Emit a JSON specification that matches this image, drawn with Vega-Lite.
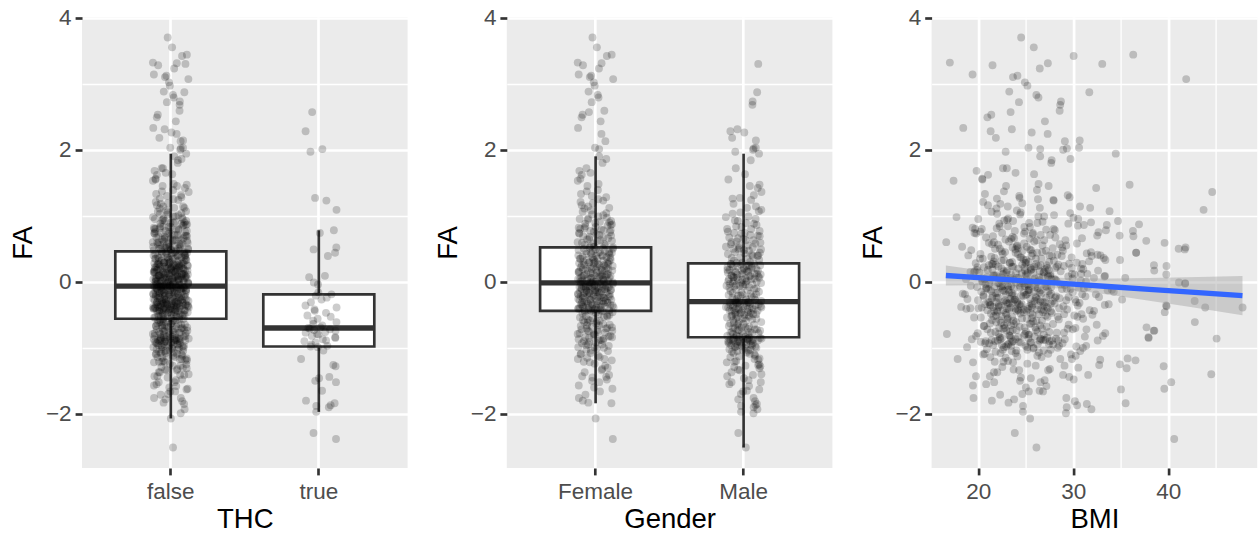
{
  "$schema": "https://vega.github.io/schema/vega-lite/v6.json",
  "background": "white",
  "padding": {"left": 9, "top": 6, "right": 0, "bottom": 0},
  "bounds": "flush",
  "spacing": 98.8,
  "config": {
    "view": {"fill": "#EBEBEB", "stroke": null},
    "axis": {
      "domain": false,
      "grid": true,
      "gridColor": "#FFFFFF",
      "gridWidth": 2.67,
      "tickColor": "#333333",
      "tickWidth": 2.67,
      "tickSize": 6.9,
      "labelColor": "#4D4D4D",
      "labelFont": "Liberation Sans",
      "labelFontSize": 22.5,
      "titleColor": "#000000",
      "titleFont": "Liberation Sans",
      "titleFontSize": 27.5,
      "titleFontWeight": "normal"
    }
  },
  "datasets": {
    "subjects": [
      {"THC":false,"Gender":"Female","BMI":24.52,"FA":3.70},
      {"THC":false,"Gender":"Female","BMI":25.85,"FA":3.55},
      {"THC":false,"Gender":"Female","BMI":36.31,"FA":3.44},
      {"THC":false,"Gender":"Female","BMI":30.04,"FA":3.42},
      {"THC":false,"Gender":"Female","BMI":17.02,"FA":3.32},
      {"THC":false,"Gender":"Female","BMI":27.33,"FA":3.31},
      {"THC":false,"Gender":"Female","BMI":21.51,"FA":3.28},
      {"THC":false,"Gender":"Female","BMI":26.48,"FA":3.23},
      {"THC":false,"Gender":"Female","BMI":19.41,"FA":3.14},
      {"THC":false,"Gender":"Female","BMI":24.13,"FA":3.12},
      {"THC":false,"Gender":"Female","BMI":23.66,"FA":3.10},
      {"THC":false,"Gender":"Female","BMI":41.88,"FA":3.07},
      {"THC":false,"Gender":"Female","BMI":24.91,"FA":3.02},
      {"THC":false,"Gender":"Female","BMI":25.18,"FA":2.97},
      {"THC":false,"Gender":"Female","BMI":23.27,"FA":2.88},
      {"THC":false,"Gender":"Female","BMI":26.12,"FA":2.83},
      {"THC":false,"Gender":"Female","BMI":26.34,"FA":2.79},
      {"THC":false,"Gender":"Female","BMI":24.29,"FA":2.72},
      {"THC":false,"Gender":"Female","BMI":28.57,"FA":2.59},
      {"THC":false,"Gender":"Female","BMI":21.38,"FA":2.53},
      {"THC":false,"Gender":"Female","BMI":20.97,"FA":2.49},
      {"THC":false,"Gender":"Female","BMI":27.02,"FA":2.43},
      {"THC":false,"Gender":"Female","BMI":18.43,"FA":2.33},
      {"THC":false,"Gender":"Female","BMI":27.31,"FA":2.24},
      {"THC":false,"Gender":"Female","BMI":29.12,"FA":2.13},
      {"THC":false,"Gender":"Female","BMI":25.29,"FA":2.03},
      {"THC":false,"Gender":"Female","BMI":26.52,"FA":1.90},
      {"THC":false,"Gender":"Female","BMI":29.71,"FA":1.86},
      {"THC":false,"Gender":"Female","BMI":27.68,"FA":1.80},
      {"THC":false,"Gender":"Female","BMI":22.61,"FA":1.72},
      {"THC":false,"Gender":"Female","BMI":19.83,"FA":1.68},
      {"THC":false,"Gender":"Female","BMI":21.04,"FA":1.62},
      {"THC":false,"Gender":"Female","BMI":20.42,"FA":1.56},
      {"THC":false,"Gender":"Female","BMI":17.41,"FA":1.53},
      {"THC":false,"Gender":"Female","BMI":22.93,"FA":1.45},
      {"THC":false,"Gender":"Female","BMI":26.18,"FA":1.39},
      {"THC":false,"Gender":"Female","BMI":20.71,"FA":1.33},
      {"THC":false,"Gender":"Female","BMI":24.32,"FA":1.30},
      {"THC":false,"Gender":"Female","BMI":26.29,"FA":1.25},
      {"THC":false,"Gender":"Female","BMI":20.52,"FA":1.21},
      {"THC":false,"Gender":"Female","BMI":21.03,"FA":1.16},
      {"THC":false,"Gender":"Female","BMI":23.11,"FA":1.14},
      {"THC":false,"Gender":"Female","BMI":21.92,"FA":1.11},
      {"THC":false,"Gender":"Female","BMI":24.07,"FA":1.08},
      {"THC":false,"Gender":"Female","BMI":29.68,"FA":1.04},
      {"THC":false,"Gender":"Female","BMI":24.41,"FA":1.02},
      {"THC":false,"Gender":"Female","BMI":26.33,"FA":0.99},
      {"THC":false,"Gender":"Female","BMI":30.02,"FA":0.97},
      {"THC":false,"Gender":"Female","BMI":20.01,"FA":0.95},
      {"THC":false,"Gender":"Female","BMI":23.04,"FA":0.94},
      {"THC":false,"Gender":"Female","BMI":34.71,"FA":0.92},
      {"THC":false,"Gender":"Female","BMI":31.87,"FA":0.90},
      {"THC":false,"Gender":"Female","BMI":25.36,"FA":0.89},
      {"THC":false,"Gender":"Female","BMI":36.92,"FA":0.87},
      {"THC":false,"Gender":"Female","BMI":30.49,"FA":0.85},
      {"THC":false,"Gender":"Female","BMI":22.27,"FA":0.84},
      {"THC":false,"Gender":"Female","BMI":19.42,"FA":0.82},
      {"THC":false,"Gender":"Female","BMI":20.38,"FA":0.80},
      {"THC":false,"Gender":"Female","BMI":27.15,"FA":0.79},
      {"THC":false,"Gender":"Female","BMI":23.85,"FA":0.77},
      {"THC":false,"Gender":"Female","BMI":32.66,"FA":0.75},
      {"THC":false,"Gender":"Female","BMI":19.61,"FA":0.74},
      {"THC":false,"Gender":"Female","BMI":25.74,"FA":0.72},
      {"THC":false,"Gender":"Female","BMI":34.88,"FA":0.70},
      {"THC":false,"Gender":"Female","BMI":21.56,"FA":0.69},
      {"THC":false,"Gender":"Female","BMI":28.12,"FA":0.67},
      {"THC":false,"Gender":"Female","BMI":23.47,"FA":0.65},
      {"THC":false,"Gender":"Female","BMI":26.95,"FA":0.63},
      {"THC":false,"Gender":"Female","BMI":37.68,"FA":0.62},
      {"THC":false,"Gender":"Female","BMI":16.64,"FA":0.60},
      {"THC":false,"Gender":"Female","BMI":24.83,"FA":0.58},
      {"THC":false,"Gender":"Female","BMI":22.09,"FA":0.56},
      {"THC":false,"Gender":"Female","BMI":29.26,"FA":0.55},
      {"THC":false,"Gender":"Female","BMI":25.11,"FA":0.53},
      {"THC":false,"Gender":"Female","BMI":23.62,"FA":0.52},
      {"THC":false,"Gender":"Female","BMI":27.84,"FA":0.51},
      {"THC":false,"Gender":"Female","BMI":41.09,"FA":0.50},
      {"THC":false,"Gender":"Female","BMI":21.77,"FA":0.50},
      {"THC":false,"Gender":"Female","BMI":25.43,"FA":0.49},
      {"THC":false,"Gender":"Female","BMI":19.27,"FA":0.48},
      {"THC":false,"Gender":"Female","BMI":24.66,"FA":0.47},
      {"THC":false,"Gender":"Female","BMI":28.91,"FA":0.47},
      {"THC":false,"Gender":"Female","BMI":22.48,"FA":0.46},
      {"THC":false,"Gender":"Female","BMI":26.74,"FA":0.45},
      {"THC":false,"Gender":"Female","BMI":31.86,"FA":0.45},
      {"THC":false,"Gender":"Female","BMI":23.93,"FA":0.44},
      {"THC":false,"Gender":"Female","BMI":31.42,"FA":0.43},
      {"THC":false,"Gender":"Female","BMI":24.18,"FA":0.42},
      {"THC":false,"Gender":"Female","BMI":32.55,"FA":0.41},
      {"THC":false,"Gender":"Female","BMI":27.49,"FA":0.40},
      {"THC":false,"Gender":"Female","BMI":18.96,"FA":0.40},
      {"THC":false,"Gender":"Female","BMI":25.62,"FA":0.39},
      {"THC":false,"Gender":"Female","BMI":21.38,"FA":0.38},
      {"THC":false,"Gender":"Female","BMI":29.83,"FA":0.37},
      {"THC":false,"Gender":"Female","BMI":33.21,"FA":0.36},
      {"THC":false,"Gender":"Female","BMI":26.07,"FA":0.35},
      {"THC":false,"Gender":"Female","BMI":20.19,"FA":0.35},
      {"THC":false,"Gender":"Female","BMI":24.77,"FA":0.34},
      {"THC":false,"Gender":"Female","BMI":33.38,"FA":0.33},
      {"THC":false,"Gender":"Female","BMI":22.71,"FA":0.33},
      {"THC":false,"Gender":"Female","BMI":27.96,"FA":0.32},
      {"THC":false,"Gender":"Female","BMI":21.64,"FA":0.31},
      {"THC":false,"Gender":"Female","BMI":25.29,"FA":0.30},
      {"THC":false,"Gender":"Female","BMI":23.56,"FA":0.30},
      {"THC":false,"Gender":"Female","BMI":30.37,"FA":0.29},
      {"THC":false,"Gender":"Female","BMI":19.74,"FA":0.28},
      {"THC":false,"Gender":"Female","BMI":24.96,"FA":0.28},
      {"THC":false,"Gender":"Female","BMI":30.96,"FA":0.27},
      {"THC":false,"Gender":"Female","BMI":28.43,"FA":0.26},
      {"THC":false,"Gender":"Female","BMI":21.11,"FA":0.25},
      {"THC":false,"Gender":"Female","BMI":26.58,"FA":0.25},
      {"THC":false,"Gender":"Female","BMI":39.81,"FA":0.24},
      {"THC":false,"Gender":"Female","BMI":23.69,"FA":0.23},
      {"THC":false,"Gender":"Female","BMI":25.91,"FA":0.23},
      {"THC":false,"Gender":"Female","BMI":20.63,"FA":0.22},
      {"THC":false,"Gender":"Female","BMI":27.27,"FA":0.21},
      {"THC":false,"Gender":"Female","BMI":29.84,"FA":0.21},
      {"THC":false,"Gender":"Female","BMI":24.24,"FA":0.20},
      {"THC":false,"Gender":"Female","BMI":31.06,"FA":0.19},
      {"THC":false,"Gender":"Female","BMI":21.49,"FA":0.19},
      {"THC":false,"Gender":"Female","BMI":25.55,"FA":0.18},
      {"THC":false,"Gender":"Female","BMI":38.52,"FA":0.17},
      {"THC":false,"Gender":"Female","BMI":23.03,"FA":0.17},
      {"THC":false,"Gender":"Female","BMI":28.68,"FA":0.16},
      {"THC":false,"Gender":"Female","BMI":19.19,"FA":0.15},
      {"THC":false,"Gender":"Female","BMI":26.86,"FA":0.14},
      {"THC":false,"Gender":"Female","BMI":19.53,"FA":0.14},
      {"THC":false,"Gender":"Female","BMI":24.59,"FA":0.13},
      {"THC":false,"Gender":"Female","BMI":30.83,"FA":0.12},
      {"THC":false,"Gender":"Female","BMI":22.62,"FA":0.12},
      {"THC":false,"Gender":"Female","BMI":27.61,"FA":0.11},
      {"THC":false,"Gender":"Female","BMI":21.93,"FA":0.10},
      {"THC":false,"Gender":"Female","BMI":25.08,"FA":0.10},
      {"THC":false,"Gender":"Female","BMI":33.34,"FA":0.09},
      {"THC":false,"Gender":"Female","BMI":29.47,"FA":0.08},
      {"THC":false,"Gender":"Female","BMI":20.92,"FA":0.07},
      {"THC":false,"Gender":"Female","BMI":26.41,"FA":0.07},
      {"THC":false,"Gender":"Female","BMI":24.01,"FA":0.06},
      {"THC":false,"Gender":"Female","BMI":32.18,"FA":0.06},
      {"THC":false,"Gender":"Female","BMI":22.98,"FA":0.05},
      {"THC":false,"Gender":"Female","BMI":27.71,"FA":0.04},
      {"THC":false,"Gender":"Female","BMI":18.72,"FA":0.04},
      {"THC":false,"Gender":"Female","BMI":25.77,"FA":0.03},
      {"THC":false,"Gender":"Female","BMI":21.26,"FA":0.02},
      {"THC":false,"Gender":"Female","BMI":30.79,"FA":0.02},
      {"THC":false,"Gender":"Female","BMI":28.26,"FA":0.01},
      {"THC":false,"Gender":"Female","BMI":24.68,"FA":0.01},
      {"THC":false,"Gender":"Female","BMI":20.47,"FA":0.00},
      {"THC":false,"Gender":"Female","BMI":41.12,"FA":-0.01},
      {"THC":false,"Gender":"Female","BMI":24.44,"FA":-0.015},
      {"THC":false,"Gender":"Female","BMI":22.22,"FA":-0.02},
      {"THC":false,"Gender":"Female","BMI":26.98,"FA":-0.03},
      {"THC":false,"Gender":"Female","BMI":41.77,"FA":-0.03},
      {"THC":false,"Gender":"Female","BMI":20.77,"FA":-0.04},
      {"THC":false,"Gender":"Female","BMI":25.19,"FA":-0.05},
      {"THC":false,"Gender":"Female","BMI":29.09,"FA":-0.05},
      {"THC":false,"Gender":"Female","BMI":23.48,"FA":-0.06},
      {"THC":false,"Gender":"Female","BMI":24.89,"FA":-0.065},
      {"THC":false,"Gender":"Female","BMI":21.69,"FA":-0.07},
      {"THC":false,"Gender":"Female","BMI":27.08,"FA":-0.07},
      {"THC":false,"Gender":"Female","BMI":23.16,"FA":-0.07},
      {"THC":false,"Gender":"Female","BMI":25.98,"FA":-0.08},
      {"THC":false,"Gender":"Female","BMI":19.89,"FA":-0.08},
      {"THC":false,"Gender":"Female","BMI":31.53,"FA":-0.08},
      {"THC":false,"Gender":"Female","BMI":30.56,"FA":-0.09},
      {"THC":false,"Gender":"Female","BMI":22.43,"FA":-0.09},
      {"THC":false,"Gender":"Female","BMI":26.27,"FA":-0.10},
      {"THC":false,"Gender":"Female","BMI":23.74,"FA":-0.10},
      {"THC":false,"Gender":"Female","BMI":28.82,"FA":-0.11},
      {"THC":false,"Gender":"Female","BMI":21.08,"FA":-0.11},
      {"THC":false,"Gender":"Female","BMI":25.34,"FA":-0.12},
      {"THC":false,"Gender":"Female","BMI":34.06,"FA":-0.12},
      {"THC":false,"Gender":"Female","BMI":33.62,"FA":-0.13},
      {"THC":false,"Gender":"Female","BMI":22.58,"FA":-0.13},
      {"THC":false,"Gender":"Female","BMI":27.39,"FA":-0.14},
      {"THC":false,"Gender":"Female","BMI":20.33,"FA":-0.15},
      {"THC":false,"Gender":"Female","BMI":25.86,"FA":-0.15},
      {"THC":false,"Gender":"Female","BMI":23.27,"FA":-0.16},
      {"THC":false,"Gender":"Female","BMI":29.94,"FA":-0.16},
      {"THC":false,"Gender":"Female","BMI":21.82,"FA":-0.17},
      {"THC":false,"Gender":"Female","BMI":26.63,"FA":-0.18},
      {"THC":false,"Gender":"Female","BMI":18.38,"FA":-0.18},
      {"THC":false,"Gender":"Female","BMI":18.61,"FA":-0.19},
      {"THC":false,"Gender":"Female","BMI":22.91,"FA":-0.19},
      {"THC":false,"Gender":"Female","BMI":27.52,"FA":-0.20},
      {"THC":false,"Gender":"Female","BMI":25.01,"FA":-0.20},
      {"THC":false,"Gender":"Female","BMI":23.58,"FA":-0.21},
      {"THC":false,"Gender":"Female","BMI":31.28,"FA":-0.22},
      {"THC":false,"Gender":"Female","BMI":20.57,"FA":-0.22},
      {"THC":false,"Gender":"Female","BMI":26.04,"FA":-0.23},
      {"THC":false,"Gender":"Female","BMI":32.71,"FA":-0.23},
      {"THC":false,"Gender":"Female","BMI":22.14,"FA":-0.24},
      {"THC":false,"Gender":"Female","BMI":28.56,"FA":-0.25},
      {"THC":false,"Gender":"Female","BMI":21.43,"FA":-0.25},
      {"THC":false,"Gender":"Female","BMI":25.47,"FA":-0.26},
      {"THC":false,"Gender":"Female","BMI":23.89,"FA":-0.27},
      {"THC":false,"Gender":"Female","BMI":35.14,"FA":-0.27},
      {"THC":false,"Gender":"Female","BMI":19.98,"FA":-0.28},
      {"THC":false,"Gender":"Female","BMI":29.27,"FA":-0.28},
      {"THC":false,"Gender":"Female","BMI":27.83,"FA":-0.29},
      {"THC":false,"Gender":"Female","BMI":22.67,"FA":-0.30},
      {"THC":false,"Gender":"Female","BMI":26.54,"FA":-0.30},
      {"THC":false,"Gender":"Female","BMI":21.21,"FA":-0.31},
      {"THC":false,"Gender":"Female","BMI":30.29,"FA":-0.31},
      {"THC":false,"Gender":"Female","BMI":24.14,"FA":-0.32},
      {"THC":false,"Gender":"Female","BMI":23.13,"FA":-0.33},
      {"THC":false,"Gender":"Female","BMI":28.04,"FA":-0.33},
      {"THC":false,"Gender":"Female","BMI":20.74,"FA":-0.34},
      {"THC":false,"Gender":"Female","BMI":25.68,"FA":-0.35},
      {"THC":false,"Gender":"Female","BMI":33.32,"FA":-0.35},
      {"THC":false,"Gender":"Female","BMI":39.77,"FA":-0.36},
      {"THC":false,"Gender":"Female","BMI":26.89,"FA":-0.36},
      {"THC":false,"Gender":"Female","BMI":24.47,"FA":-0.37},
      {"THC":false,"Gender":"Female","BMI":21.58,"FA":-0.38},
      {"THC":false,"Gender":"Female","BMI":27.22,"FA":-0.38},
      {"THC":false,"Gender":"Female","BMI":23.42,"FA":-0.39},
      {"THC":false,"Gender":"Female","BMI":47.81,"FA":-0.39},
      {"THC":false,"Gender":"Female","BMI":19.17,"FA":-0.40},
      {"THC":false,"Gender":"Female","BMI":25.23,"FA":-0.41},
      {"THC":false,"Gender":"Female","BMI":18.76,"FA":-0.41},
      {"THC":false,"Gender":"Female","BMI":26.16,"FA":-0.42},
      {"THC":false,"Gender":"Female","BMI":24.79,"FA":-0.42},
      {"THC":false,"Gender":"Female","BMI":21.97,"FA":-0.43},
      {"THC":false,"Gender":"Female","BMI":31.73,"FA":-0.43},
      {"THC":false,"Gender":"Female","BMI":23.98,"FA":-0.44},
      {"THC":false,"Gender":"Female","BMI":27.64,"FA":-0.445},
      {"THC":false,"Gender":"Female","BMI":22.05,"FA":-0.455},
      {"THC":false,"Gender":"Female","BMI":39.63,"FA":-0.46},
      {"THC":false,"Gender":"Female","BMI":25.52,"FA":-0.47},
      {"THC":false,"Gender":"Female","BMI":21.34,"FA":-0.48},
      {"THC":false,"Gender":"Female","BMI":26.38,"FA":-0.49},
      {"THC":false,"Gender":"Female","BMI":32.02,"FA":-0.50},
      {"THC":false,"Gender":"Female","BMI":30.11,"FA":-0.51},
      {"THC":false,"Gender":"Female","BMI":22.44,"FA":-0.52},
      {"THC":false,"Gender":"Female","BMI":28.37,"FA":-0.53},
      {"THC":false,"Gender":"Female","BMI":20.28,"FA":-0.54},
      {"THC":false,"Gender":"Female","BMI":24.61,"FA":-0.555},
      {"THC":false,"Gender":"Female","BMI":23.07,"FA":-0.57},
      {"THC":false,"Gender":"Female","BMI":26.71,"FA":-0.59},
      {"THC":false,"Gender":"Female","BMI":21.89,"FA":-0.61},
      {"THC":false,"Gender":"Female","BMI":25.59,"FA":-0.63},
      {"THC":false,"Gender":"Female","BMI":32.47,"FA":-0.65},
      {"THC":false,"Gender":"Female","BMI":22.73,"FA":-0.66},
      {"THC":false,"Gender":"Female","BMI":37.71,"FA":-0.69},
      {"THC":false,"Gender":"Female","BMI":30.23,"FA":-0.70},
      {"THC":false,"Gender":"Female","BMI":20.96,"FA":-0.72},
      {"THC":false,"Gender":"Female","BMI":26.08,"FA":-0.73},
      {"THC":false,"Gender":"Female","BMI":23.36,"FA":-0.75},
      {"THC":false,"Gender":"Female","BMI":29.03,"FA":-0.77},
      {"THC":false,"Gender":"Female","BMI":16.71,"FA":-0.79},
      {"THC":false,"Gender":"Female","BMI":25.27,"FA":-0.80},
      {"THC":false,"Gender":"Female","BMI":33.12,"FA":-0.82},
      {"THC":false,"Gender":"Female","BMI":22.28,"FA":-0.84},
      {"THC":false,"Gender":"Female","BMI":28.19,"FA":-0.86},
      {"THC":false,"Gender":"Female","BMI":19.33,"FA":-0.87},
      {"THC":false,"Gender":"Female","BMI":26.47,"FA":-0.89},
      {"THC":false,"Gender":"Female","BMI":23.52,"FA":-0.91},
      {"THC":false,"Gender":"Female","BMI":21.15,"FA":-0.93},
      {"THC":false,"Gender":"Female","BMI":27.44,"FA":-0.95},
      {"THC":false,"Gender":"Female","BMI":31.36,"FA":-0.97},
      {"THC":false,"Gender":"Female","BMI":18.83,"FA":-0.99},
      {"THC":false,"Gender":"Female","BMI":25.81,"FA":-1.01},
      {"THC":false,"Gender":"Female","BMI":22.59,"FA":-1.03},
      {"THC":false,"Gender":"Female","BMI":30.74,"FA":-1.05},
      {"THC":false,"Gender":"Female","BMI":23.94,"FA":-1.08},
      {"THC":false,"Gender":"Female","BMI":20.53,"FA":-1.10},
      {"THC":false,"Gender":"Female","BMI":26.22,"FA":-1.12},
      {"THC":false,"Gender":"Female","BMI":22.88,"FA":-1.15},
      {"THC":false,"Gender":"Female","BMI":28.64,"FA":-1.17},
      {"THC":false,"Gender":"Female","BMI":36.55,"FA":-1.19},
      {"THC":false,"Gender":"Female","BMI":21.74,"FA":-1.21},
      {"THC":false,"Gender":"Female","BMI":25.17,"FA":-1.24},
      {"THC":false,"Gender":"Female","BMI":29.08,"FA":-1.27},
      {"THC":false,"Gender":"Female","BMI":30.53,"FA":-1.30},
      {"THC":false,"Gender":"Female","BMI":27.36,"FA":-1.34},
      {"THC":false,"Gender":"Female","BMI":22.01,"FA":-1.37},
      {"THC":false,"Gender":"Female","BMI":31.57,"FA":-1.41},
      {"THC":false,"Gender":"Female","BMI":24.49,"FA":-1.45},
      {"THC":false,"Gender":"Female","BMI":30.05,"FA":-1.48},
      {"THC":false,"Gender":"Female","BMI":26.56,"FA":-1.52},
      {"THC":false,"Gender":"Female","BMI":19.45,"FA":-1.57},
      {"THC":false,"Gender":"Female","BMI":39.58,"FA":-1.62},
      {"THC":false,"Gender":"Female","BMI":26.82,"FA":-1.66},
      {"THC":false,"Gender":"Female","BMI":22.31,"FA":-1.71},
      {"THC":false,"Gender":"Female","BMI":19.51,"FA":-1.76},
      {"THC":false,"Gender":"Female","BMI":23.19,"FA":-1.83},
      {"THC":false,"Gender":"Female","BMI":25.46,"FA":-2.07},
      {"THC":false,"Gender":"Female","BMI":21.46,"FA":-0.58},
      {"THC":false,"Gender":"Female","BMI":25.78,"FA":-0.60},
      {"THC":false,"Gender":"Female","BMI":23.01,"FA":-0.62},
      {"THC":false,"Gender":"Female","BMI":27.87,"FA":-0.64},
      {"THC":false,"Gender":"Female","BMI":20.58,"FA":-0.67},
      {"THC":false,"Gender":"Female","BMI":24.36,"FA":-0.68},
      {"THC":false,"Gender":"Female","BMI":29.41,"FA":-0.71},
      {"THC":false,"Gender":"Female","BMI":22.97,"FA":-0.74},
      {"THC":false,"Gender":"Female","BMI":26.24,"FA":-0.76},
      {"THC":false,"Gender":"Female","BMI":19.95,"FA":-0.78},
      {"THC":false,"Gender":"Female","BMI":24.84,"FA":-0.81},
      {"THC":false,"Gender":"Female","BMI":31.22,"FA":-0.83},
      {"THC":false,"Gender":"Female","BMI":23.43,"FA":-0.85},
      {"THC":false,"Gender":"Female","BMI":27.06,"FA":-0.88},
      {"THC":false,"Gender":"Female","BMI":21.79,"FA":-0.90},
      {"THC":false,"Gender":"Female","BMI":25.48,"FA":-0.92},
      {"THC":false,"Gender":"Female","BMI":22.51,"FA":-0.96},
      {"THC":false,"Gender":"Female","BMI":28.36,"FA":-1.00},
      {"THC":false,"Gender":"Female","BMI":24.02,"FA":-1.04},
      {"THC":false,"Gender":"Female","BMI":20.68,"FA":-1.09},
      {"THC":false,"Gender":"Female","BMI":26.67,"FA":-1.14},
      {"THC":false,"Gender":"Female","BMI":23.67,"FA":-1.22},
      {"THC":false,"Gender":"Female","BMI":27.55,"FA":-1.32},
      {"THC":false,"Gender":"Female","BMI":21.23,"FA":-1.43},
      {"THC":false,"Gender":"Female","BMI":25.02,"FA":-1.60},
      {"THC":false,"Gender":"Female","BMI":26.92,"FA":-0.43},
      {"THC":false,"Gender":"Female","BMI":23.24,"FA":-0.42},
      {"THC":false,"Gender":"Female","BMI":20.04,"FA":-0.40},
      {"THC":false,"Gender":"Female","BMI":25.64,"FA":-0.39},
      {"THC":false,"Gender":"Female","BMI":28.97,"FA":-0.37},
      {"THC":false,"Gender":"Female","BMI":22.38,"FA":-0.36},
      {"THC":false,"Gender":"Female","BMI":24.58,"FA":-0.34},
      {"THC":false,"Gender":"Female","BMI":30.66,"FA":-0.32},
      {"THC":false,"Gender":"Female","BMI":21.91,"FA":-0.31},
      {"THC":false,"Gender":"Female","BMI":25.94,"FA":-0.29},
      {"THC":false,"Gender":"Female","BMI":23.82,"FA":-0.27},
      {"THC":false,"Gender":"Female","BMI":18.87,"FA":-0.26},
      {"THC":false,"Gender":"Female","BMI":27.14,"FA":-0.24},
      {"THC":false,"Gender":"Female","BMI":24.74,"FA":-0.22},
      {"THC":false,"Gender":"Female","BMI":21.52,"FA":-0.21},
      {"THC":false,"Gender":"Female","BMI":32.38,"FA":-0.19},
      {"THC":false,"Gender":"Female","BMI":23.54,"FA":-0.17},
      {"THC":false,"Gender":"Female","BMI":26.46,"FA":-0.16},
      {"THC":false,"Gender":"Female","BMI":22.76,"FA":-0.14},
      {"THC":false,"Gender":"Female","BMI":25.25,"FA":-0.13},
      {"THC":false,"Gender":"Female","BMI":29.31,"FA":-0.11},
      {"THC":false,"Gender":"Female","BMI":20.83,"FA":-0.10},
      {"THC":false,"Gender":"Female","BMI":24.43,"FA":-0.09},
      {"THC":false,"Gender":"Female","BMI":27.69,"FA":-0.08},
      {"THC":false,"Gender":"Female","BMI":22.34,"FA":-0.07},
      {"THC":false,"Gender":"Female","BMI":25.41,"FA":0.00},
      {"THC":false,"Gender":"Female","BMI":22.92,"FA":0.02},
      {"THC":false,"Gender":"Female","BMI":28.14,"FA":0.03},
      {"THC":false,"Gender":"Female","BMI":20.35,"FA":0.05},
      {"THC":false,"Gender":"Female","BMI":24.22,"FA":0.06},
      {"THC":false,"Gender":"Female","BMI":26.83,"FA":0.08},
      {"THC":false,"Gender":"Female","BMI":21.59,"FA":0.09},
      {"THC":false,"Gender":"Female","BMI":30.15,"FA":0.11},
      {"THC":false,"Gender":"Female","BMI":23.98,"FA":0.13},
      {"THC":false,"Gender":"Female","BMI":25.81,"FA":0.14},
      {"THC":false,"Gender":"Female","BMI":19.64,"FA":0.16},
      {"THC":false,"Gender":"Female","BMI":27.42,"FA":0.18},
      {"THC":false,"Gender":"Female","BMI":22.47,"FA":0.20},
      {"THC":false,"Gender":"Female","BMI":24.87,"FA":0.22},
      {"THC":false,"Gender":"Female","BMI":29.02,"FA":0.24},
      {"THC":false,"Gender":"Female","BMI":21.84,"FA":0.26},
      {"THC":false,"Gender":"Female","BMI":26.09,"FA":0.27},
      {"THC":false,"Gender":"Female","BMI":23.35,"FA":0.29},
      {"THC":false,"Gender":"Female","BMI":31.67,"FA":0.31},
      {"THC":false,"Gender":"Female","BMI":25.05,"FA":0.33},
      {"THC":false,"Gender":"Female","BMI":20.48,"FA":0.35},
      {"THC":false,"Gender":"Female","BMI":24.53,"FA":0.37},
      {"THC":false,"Gender":"Female","BMI":27.77,"FA":0.39},
      {"THC":false,"Gender":"Female","BMI":22.58,"FA":0.42},
      {"THC":false,"Gender":"Female","BMI":26.19,"FA":0.44},
      {"THC":false,"Gender":"Female","BMI":24.05,"FA":0.54},
      {"THC":false,"Gender":"Female","BMI":28.58,"FA":0.57},
      {"THC":false,"Gender":"Female","BMI":21.12,"FA":0.59},
      {"THC":false,"Gender":"Female","BMI":25.89,"FA":0.61},
      {"THC":false,"Gender":"Female","BMI":22.87,"FA":0.64},
      {"THC":false,"Gender":"Female","BMI":30.92,"FA":0.66},
      {"THC":false,"Gender":"Female","BMI":23.61,"FA":0.68},
      {"THC":false,"Gender":"Female","BMI":26.57,"FA":0.71},
      {"THC":false,"Gender":"Female","BMI":19.79,"FA":0.73},
      {"THC":false,"Gender":"Female","BMI":24.94,"FA":0.76},
      {"THC":false,"Gender":"Female","BMI":28.06,"FA":0.78},
      {"THC":false,"Gender":"Female","BMI":21.95,"FA":0.81},
      {"THC":false,"Gender":"Female","BMI":25.44,"FA":0.83},
      {"THC":false,"Gender":"Female","BMI":33.53,"FA":0.86},
      {"THC":false,"Gender":"Female","BMI":22.22,"FA":0.88},
      {"THC":false,"Gender":"Female","BMI":26.77,"FA":0.91},
      {"THC":false,"Gender":"Female","BMI":23.16,"FA":0.96},
      {"THC":false,"Gender":"Female","BMI":27.98,"FA":1.01},
      {"THC":false,"Gender":"Female","BMI":21.41,"FA":1.06},
      {"THC":false,"Gender":"Female","BMI":31.78,"FA":1.12},
      {"THC":false,"Gender":"Female","BMI":24.64,"FA":1.19},
      {"THC":false,"Gender":"Female","BMI":29.62,"FA":1.28},
      {"THC":false,"Gender":"Female","BMI":22.71,"FA":1.37},
      {"THC":false,"Gender":"Female","BMI":26.35,"FA":1.48},
      {"THC":false,"Gender":"Female","BMI":23.93,"FA":1.65},
      {"THC":false,"Gender":"Male","BMI":33.05,"FA":3.30},
      {"THC":false,"Gender":"Male","BMI":31.69,"FA":2.87},
      {"THC":false,"Gender":"Male","BMI":28.71,"FA":2.73},
      {"THC":false,"Gender":"Male","BMI":28.63,"FA":2.68},
      {"THC":false,"Gender":"Male","BMI":23.54,"FA":2.31},
      {"THC":false,"Gender":"Male","BMI":25.63,"FA":2.26},
      {"THC":false,"Gender":"Male","BMI":21.86,"FA":2.18},
      {"THC":false,"Gender":"Male","BMI":30.68,"FA":2.14},
      {"THC":false,"Gender":"Male","BMI":30.61,"FA":2.03},
      {"THC":false,"Gender":"Male","BMI":29.33,"FA":2.02},
      {"THC":false,"Gender":"Male","BMI":28.94,"FA":2.00},
      {"THC":false,"Gender":"Male","BMI":34.47,"FA":1.94},
      {"THC":false,"Gender":"Male","BMI":27.73,"FA":1.84},
      {"THC":false,"Gender":"Male","BMI":23.01,"FA":1.72},
      {"THC":false,"Gender":"Male","BMI":25.88,"FA":1.63},
      {"THC":false,"Gender":"Male","BMI":20.44,"FA":1.55},
      {"THC":false,"Gender":"Male","BMI":35.93,"FA":1.47},
      {"THC":false,"Gender":"Male","BMI":32.41,"FA":1.42},
      {"THC":false,"Gender":"Male","BMI":44.62,"FA":1.36},
      {"THC":false,"Gender":"Male","BMI":29.42,"FA":1.31},
      {"THC":false,"Gender":"Male","BMI":27.91,"FA":1.24},
      {"THC":false,"Gender":"Male","BMI":22.33,"FA":1.18},
      {"THC":false,"Gender":"Male","BMI":26.49,"FA":1.12},
      {"THC":false,"Gender":"Male","BMI":33.82,"FA":1.07},
      {"THC":false,"Gender":"Male","BMI":21.99,"FA":1.03},
      {"THC":false,"Gender":"Male","BMI":17.72,"FA":0.98},
      {"THC":false,"Gender":"Male","BMI":30.52,"FA":0.95},
      {"THC":false,"Gender":"Male","BMI":23.67,"FA":0.92},
      {"THC":false,"Gender":"Male","BMI":26.23,"FA":0.89},
      {"THC":false,"Gender":"Male","BMI":31.12,"FA":0.86},
      {"THC":false,"Gender":"Male","BMI":24.86,"FA":0.83},
      {"THC":false,"Gender":"Male","BMI":19.68,"FA":0.80},
      {"THC":false,"Gender":"Male","BMI":36.28,"FA":0.77},
      {"THC":false,"Gender":"Male","BMI":22.52,"FA":0.74},
      {"THC":false,"Gender":"Male","BMI":27.57,"FA":0.71},
      {"THC":false,"Gender":"Male","BMI":36.33,"FA":0.69},
      {"THC":false,"Gender":"Male","BMI":20.82,"FA":0.67},
      {"THC":false,"Gender":"Male","BMI":25.39,"FA":0.65},
      {"THC":false,"Gender":"Male","BMI":29.18,"FA":0.63},
      {"THC":false,"Gender":"Male","BMI":23.24,"FA":0.61},
      {"THC":false,"Gender":"Male","BMI":39.61,"FA":0.59},
      {"THC":false,"Gender":"Male","BMI":21.47,"FA":0.57},
      {"THC":false,"Gender":"Male","BMI":26.77,"FA":0.55},
      {"THC":false,"Gender":"Male","BMI":18.31,"FA":0.53},
      {"THC":false,"Gender":"Male","BMI":24.17,"FA":0.51},
      {"THC":false,"Gender":"Male","BMI":41.73,"FA":0.49},
      {"THC":false,"Gender":"Male","BMI":27.13,"FA":0.47},
      {"THC":false,"Gender":"Male","BMI":22.83,"FA":0.45},
      {"THC":false,"Gender":"Male","BMI":36.61,"FA":0.44},
      {"THC":false,"Gender":"Male","BMI":25.72,"FA":0.43},
      {"THC":false,"Gender":"Male","BMI":20.24,"FA":0.42},
      {"THC":false,"Gender":"Male","BMI":28.33,"FA":0.41},
      {"THC":false,"Gender":"Male","BMI":32.87,"FA":0.40},
      {"THC":false,"Gender":"Male","BMI":31.93,"FA":0.39},
      {"THC":false,"Gender":"Male","BMI":24.42,"FA":0.37},
      {"THC":false,"Gender":"Male","BMI":21.73,"FA":0.36},
      {"THC":false,"Gender":"Male","BMI":26.66,"FA":0.35},
      {"THC":false,"Gender":"Male","BMI":34.92,"FA":0.33},
      {"THC":false,"Gender":"Male","BMI":22.46,"FA":0.32},
      {"THC":false,"Gender":"Male","BMI":27.46,"FA":0.30},
      {"THC":false,"Gender":"Male","BMI":25.04,"FA":0.29},
      {"THC":false,"Gender":"Male","BMI":23.31,"FA":0.285},
      {"THC":false,"Gender":"Male","BMI":29.57,"FA":0.275},
      {"THC":false,"Gender":"Male","BMI":21.53,"FA":0.27},
      {"THC":false,"Gender":"Male","BMI":24.63,"FA":0.26},
      {"THC":false,"Gender":"Male","BMI":38.49,"FA":0.25},
      {"THC":false,"Gender":"Male","BMI":26.31,"FA":0.24},
      {"THC":false,"Gender":"Male","BMI":22.12,"FA":0.23},
      {"THC":false,"Gender":"Male","BMI":28.29,"FA":0.23},
      {"THC":false,"Gender":"Male","BMI":19.92,"FA":0.22},
      {"THC":false,"Gender":"Male","BMI":25.49,"FA":0.21},
      {"THC":false,"Gender":"Male","BMI":30.83,"FA":0.20},
      {"THC":false,"Gender":"Male","BMI":27.03,"FA":0.19},
      {"THC":false,"Gender":"Male","BMI":21.01,"FA":0.18},
      {"THC":false,"Gender":"Male","BMI":24.93,"FA":0.17},
      {"THC":false,"Gender":"Male","BMI":32.61,"FA":0.17},
      {"THC":false,"Gender":"Male","BMI":22.69,"FA":0.16},
      {"THC":false,"Gender":"Male","BMI":26.93,"FA":0.15},
      {"THC":false,"Gender":"Male","BMI":20.11,"FA":0.14},
      {"THC":false,"Gender":"Male","BMI":25.21,"FA":0.13},
      {"THC":false,"Gender":"Male","BMI":29.87,"FA":0.12},
      {"THC":false,"Gender":"Male","BMI":23.44,"FA":0.11},
      {"THC":false,"Gender":"Male","BMI":39.79,"FA":0.11},
      {"THC":false,"Gender":"Male","BMI":21.63,"FA":0.10},
      {"THC":false,"Gender":"Male","BMI":27.58,"FA":0.09},
      {"THC":false,"Gender":"Male","BMI":33.28,"FA":0.08},
      {"THC":false,"Gender":"Male","BMI":22.24,"FA":0.07},
      {"THC":false,"Gender":"Male","BMI":35.47,"FA":0.06},
      {"THC":false,"Gender":"Male","BMI":25.96,"FA":0.05},
      {"THC":false,"Gender":"Male","BMI":20.67,"FA":0.04},
      {"THC":false,"Gender":"Male","BMI":28.02,"FA":0.04},
      {"THC":false,"Gender":"Male","BMI":23.72,"FA":0.03},
      {"THC":false,"Gender":"Male","BMI":26.44,"FA":0.02},
      {"THC":false,"Gender":"Male","BMI":22.41,"FA":0.01},
      {"THC":false,"Gender":"Male","BMI":31.34,"FA":0.00},
      {"THC":false,"Gender":"Male","BMI":24.73,"FA":-0.01},
      {"THC":false,"Gender":"Male","BMI":41.78,"FA":-0.02},
      {"THC":false,"Gender":"Male","BMI":21.18,"FA":-0.03},
      {"THC":false,"Gender":"Male","BMI":26.02,"FA":-0.04},
      {"THC":false,"Gender":"Male","BMI":23.09,"FA":-0.05},
      {"THC":false,"Gender":"Male","BMI":19.22,"FA":-0.06},
      {"THC":false,"Gender":"Male","BMI":25.31,"FA":-0.07},
      {"THC":false,"Gender":"Male","BMI":22.56,"FA":-0.07},
      {"THC":false,"Gender":"Male","BMI":27.24,"FA":-0.08},
      {"THC":false,"Gender":"Male","BMI":20.89,"FA":-0.09},
      {"THC":false,"Gender":"Male","BMI":31.11,"FA":-0.10},
      {"THC":false,"Gender":"Male","BMI":29.72,"FA":-0.11},
      {"THC":false,"Gender":"Male","BMI":23.18,"FA":-0.12},
      {"THC":false,"Gender":"Male","BMI":26.59,"FA":-0.13},
      {"THC":false,"Gender":"Male","BMI":21.36,"FA":-0.14},
      {"THC":false,"Gender":"Male","BMI":34.26,"FA":-0.15},
      {"THC":false,"Gender":"Male","BMI":24.81,"FA":-0.16},
      {"THC":false,"Gender":"Male","BMI":22.02,"FA":-0.17},
      {"THC":false,"Gender":"Male","BMI":27.67,"FA":-0.18},
      {"THC":false,"Gender":"Male","BMI":25.13,"FA":-0.19},
      {"THC":false,"Gender":"Male","BMI":20.55,"FA":-0.20},
      {"THC":false,"Gender":"Male","BMI":23.77,"FA":-0.21},
      {"THC":false,"Gender":"Male","BMI":28.21,"FA":-0.22},
      {"THC":false,"Gender":"Male","BMI":29.51,"FA":-0.23},
      {"THC":false,"Gender":"Male","BMI":21.94,"FA":-0.24},
      {"THC":false,"Gender":"Male","BMI":26.11,"FA":-0.25},
      {"THC":false,"Gender":"Male","BMI":23.38,"FA":-0.26},
      {"THC":false,"Gender":"Male","BMI":30.21,"FA":-0.27},
      {"THC":false,"Gender":"Male","BMI":22.86,"FA":-0.28},
      {"THC":false,"Gender":"Male","BMI":42.77,"FA":-0.29},
      {"THC":false,"Gender":"Male","BMI":24.09,"FA":-0.30},
      {"THC":false,"Gender":"Male","BMI":21.07,"FA":-0.31},
      {"THC":false,"Gender":"Male","BMI":27.04,"FA":-0.31},
      {"THC":false,"Gender":"Male","BMI":23.61,"FA":-0.32},
      {"THC":false,"Gender":"Male","BMI":25.58,"FA":-0.33},
      {"THC":false,"Gender":"Male","BMI":33.73,"FA":-0.34},
      {"THC":false,"Gender":"Male","BMI":22.18,"FA":-0.35},
      {"THC":false,"Gender":"Male","BMI":26.36,"FA":-0.36},
      {"THC":false,"Gender":"Male","BMI":39.83,"FA":-0.37},
      {"THC":false,"Gender":"Male","BMI":18.21,"FA":-0.38},
      {"THC":false,"Gender":"Male","BMI":20.37,"FA":-0.39},
      {"THC":false,"Gender":"Male","BMI":27.34,"FA":-0.40},
      {"THC":false,"Gender":"Male","BMI":23.05,"FA":-0.41},
      {"THC":false,"Gender":"Male","BMI":29.35,"FA":-0.42},
      {"THC":false,"Gender":"Male","BMI":22.63,"FA":-0.43},
      {"THC":false,"Gender":"Male","BMI":25.09,"FA":-0.44},
      {"THC":false,"Gender":"Male","BMI":21.71,"FA":-0.45},
      {"THC":false,"Gender":"Male","BMI":26.83,"FA":-0.46},
      {"THC":false,"Gender":"Male","BMI":24.46,"FA":-0.48},
      {"THC":false,"Gender":"Male","BMI":30.87,"FA":-0.49},
      {"THC":false,"Gender":"Male","BMI":22.95,"FA":-0.50},
      {"THC":false,"Gender":"Male","BMI":27.11,"FA":-0.51},
      {"THC":false,"Gender":"Male","BMI":23.57,"FA":-0.53},
      {"THC":false,"Gender":"Male","BMI":19.57,"FA":-0.54},
      {"THC":false,"Gender":"Male","BMI":25.66,"FA":-0.55},
      {"THC":false,"Gender":"Male","BMI":31.04,"FA":-0.56},
      {"THC":false,"Gender":"Male","BMI":28.48,"FA":-0.57},
      {"THC":false,"Gender":"Male","BMI":22.26,"FA":-0.58},
      {"THC":false,"Gender":"Male","BMI":26.13,"FA":-0.59},
      {"THC":false,"Gender":"Male","BMI":23.99,"FA":-0.61},
      {"THC":false,"Gender":"Male","BMI":22.42,"FA":-0.62},
      {"THC":false,"Gender":"Male","BMI":21.24,"FA":-0.63},
      {"THC":false,"Gender":"Male","BMI":25.42,"FA":-0.64},
      {"THC":false,"Gender":"Male","BMI":29.52,"FA":-0.65},
      {"THC":false,"Gender":"Male","BMI":23.46,"FA":-0.66},
      {"THC":false,"Gender":"Male","BMI":20.64,"FA":-0.67},
      {"THC":false,"Gender":"Male","BMI":27.21,"FA":-0.68},
      {"THC":false,"Gender":"Male","BMI":24.88,"FA":-0.69},
      {"THC":false,"Gender":"Male","BMI":22.78,"FA":-0.70},
      {"THC":false,"Gender":"Male","BMI":26.72,"FA":-0.71},
      {"THC":false,"Gender":"Male","BMI":31.39,"FA":-0.72},
      {"THC":false,"Gender":"Male","BMI":23.64,"FA":-0.73},
      {"THC":false,"Gender":"Male","BMI":38.47,"FA":-0.74},
      {"THC":false,"Gender":"Male","BMI":25.02,"FA":-0.75},
      {"THC":false,"Gender":"Male","BMI":21.81,"FA":-0.76},
      {"THC":false,"Gender":"Male","BMI":28.27,"FA":-0.77},
      {"THC":false,"Gender":"Male","BMI":33.37,"FA":-0.78},
      {"THC":false,"Gender":"Male","BMI":22.16,"FA":-0.79},
      {"THC":false,"Gender":"Male","BMI":26.91,"FA":-0.80},
      {"THC":false,"Gender":"Male","BMI":23.26,"FA":-0.81},
      {"THC":false,"Gender":"Male","BMI":19.78,"FA":-0.82},
      {"THC":false,"Gender":"Male","BMI":25.93,"FA":-0.83},
      {"THC":false,"Gender":"Male","BMI":24.19,"FA":-0.835},
      {"THC":false,"Gender":"Male","BMI":27.26,"FA":-0.845},
      {"THC":false,"Gender":"Male","BMI":22.49,"FA":-0.85},
      {"THC":false,"Gender":"Male","BMI":45.08,"FA":-0.86},
      {"THC":false,"Gender":"Male","BMI":25.28,"FA":-0.86},
      {"THC":false,"Gender":"Male","BMI":23.92,"FA":-0.87},
      {"THC":false,"Gender":"Male","BMI":29.11,"FA":-0.87},
      {"THC":false,"Gender":"Male","BMI":21.42,"FA":-0.88},
      {"THC":false,"Gender":"Male","BMI":26.85,"FA":-0.88},
      {"THC":false,"Gender":"Male","BMI":32.57,"FA":-0.89},
      {"THC":false,"Gender":"Male","BMI":22.07,"FA":-0.89},
      {"THC":false,"Gender":"Male","BMI":27.51,"FA":-0.90},
      {"THC":false,"Gender":"Male","BMI":23.68,"FA":-0.90},
      {"THC":false,"Gender":"Male","BMI":20.29,"FA":-0.91},
      {"THC":false,"Gender":"Male","BMI":25.57,"FA":-0.92},
      {"THC":false,"Gender":"Male","BMI":28.88,"FA":-0.93},
      {"THC":false,"Gender":"Male","BMI":23.23,"FA":-0.94},
      {"THC":false,"Gender":"Male","BMI":26.26,"FA":-0.95},
      {"THC":false,"Gender":"Male","BMI":21.57,"FA":-0.96},
      {"THC":false,"Gender":"Male","BMI":24.98,"FA":-0.97},
      {"THC":false,"Gender":"Male","BMI":30.32,"FA":-0.98},
      {"THC":false,"Gender":"Male","BMI":22.72,"FA":-0.99},
      {"THC":false,"Gender":"Male","BMI":25.83,"FA":-1.00},
      {"THC":false,"Gender":"Male","BMI":20.91,"FA":-1.02},
      {"THC":false,"Gender":"Male","BMI":27.62,"FA":-1.03},
      {"THC":false,"Gender":"Male","BMI":23.53,"FA":-1.05},
      {"THC":false,"Gender":"Male","BMI":26.39,"FA":-1.07},
      {"THC":false,"Gender":"Male","BMI":22.35,"FA":-1.08},
      {"THC":false,"Gender":"Male","BMI":29.76,"FA":-1.10},
      {"THC":false,"Gender":"Male","BMI":30.26,"FA":-1.12},
      {"THC":false,"Gender":"Male","BMI":21.28,"FA":-1.14},
      {"THC":false,"Gender":"Male","BMI":35.72,"FA":-1.16},
      {"THC":false,"Gender":"Male","BMI":32.84,"FA":-1.18},
      {"THC":false,"Gender":"Male","BMI":23.14,"FA":-1.20},
      {"THC":false,"Gender":"Male","BMI":19.46,"FA":-1.22},
      {"THC":false,"Gender":"Male","BMI":34.91,"FA":-1.25},
      {"THC":false,"Gender":"Male","BMI":22.54,"FA":-1.29},
      {"THC":false,"Gender":"Male","BMI":35.62,"FA":-1.31},
      {"THC":false,"Gender":"Male","BMI":24.31,"FA":-1.34},
      {"THC":false,"Gender":"Male","BMI":21.66,"FA":-1.37},
      {"THC":false,"Gender":"Male","BMI":44.52,"FA":-1.40},
      {"THC":false,"Gender":"Male","BMI":19.77,"FA":-1.43},
      {"THC":false,"Gender":"Male","BMI":26.99,"FA":-1.49},
      {"THC":false,"Gender":"Male","BMI":20.84,"FA":-1.55},
      {"THC":false,"Gender":"Male","BMI":27.18,"FA":-1.58},
      {"THC":false,"Gender":"Male","BMI":35.02,"FA":-1.63},
      {"THC":false,"Gender":"Male","BMI":24.65,"FA":-1.70},
      {"THC":false,"Gender":"Male","BMI":29.27,"FA":-1.76},
      {"THC":false,"Gender":"Male","BMI":23.78,"FA":-1.78},
      {"THC":false,"Gender":"Male","BMI":31.43,"FA":-1.85},
      {"THC":false,"Gender":"Male","BMI":31.91,"FA":-1.93},
      {"THC":false,"Gender":"Male","BMI":29.23,"FA":-1.99},
      {"THC":false,"Gender":"Male","BMI":26.13,"FA":-2.51},
      {"THC":false,"Gender":"Male","BMI":26.54,"FA":-0.86},
      {"THC":false,"Gender":"Male","BMI":22.31,"FA":-0.87},
      {"THC":false,"Gender":"Male","BMI":28.41,"FA":-0.89},
      {"THC":false,"Gender":"Male","BMI":24.27,"FA":-0.91},
      {"THC":false,"Gender":"Male","BMI":20.73,"FA":-0.93},
      {"THC":false,"Gender":"Male","BMI":27.88,"FA":-0.95},
      {"THC":false,"Gender":"Male","BMI":23.47,"FA":-0.97},
      {"THC":false,"Gender":"Male","BMI":31.02,"FA":-1.00},
      {"THC":false,"Gender":"Male","BMI":25.17,"FA":-1.03},
      {"THC":false,"Gender":"Male","BMI":21.83,"FA":-1.06},
      {"THC":false,"Gender":"Male","BMI":27.37,"FA":-1.09},
      {"THC":false,"Gender":"Male","BMI":24.12,"FA":-1.13},
      {"THC":false,"Gender":"Male","BMI":29.86,"FA":-1.17},
      {"THC":false,"Gender":"Male","BMI":22.65,"FA":-1.21},
      {"THC":false,"Gender":"Male","BMI":26.05,"FA":-1.27},
      {"THC":false,"Gender":"Male","BMI":23.72,"FA":-1.33},
      {"THC":false,"Gender":"Male","BMI":28.93,"FA":-1.41},
      {"THC":false,"Gender":"Male","BMI":21.68,"FA":-1.52},
      {"THC":false,"Gender":"Male","BMI":25.33,"FA":-1.66},
      {"THC":false,"Gender":"Male","BMI":30.17,"FA":-1.81},
      {"THC":false,"Gender":"Male","BMI":23.12,"FA":-0.55},
      {"THC":false,"Gender":"Male","BMI":27.29,"FA":-0.53},
      {"THC":false,"Gender":"Male","BMI":21.61,"FA":-0.52},
      {"THC":false,"Gender":"Male","BMI":25.73,"FA":-0.50},
      {"THC":false,"Gender":"Male","BMI":29.04,"FA":-0.49},
      {"THC":false,"Gender":"Male","BMI":22.89,"FA":-0.47},
      {"THC":false,"Gender":"Male","BMI":24.77,"FA":-0.46},
      {"THC":false,"Gender":"Male","BMI":32.19,"FA":-0.44},
      {"THC":false,"Gender":"Male","BMI":20.96,"FA":-0.43},
      {"THC":false,"Gender":"Male","BMI":26.62,"FA":-0.42},
      {"THC":false,"Gender":"Male","BMI":23.91,"FA":-0.41},
      {"THC":false,"Gender":"Male","BMI":28.52,"FA":-0.40},
      {"THC":false,"Gender":"Male","BMI":22.15,"FA":-0.38},
      {"THC":false,"Gender":"Male","BMI":25.38,"FA":-0.37},
      {"THC":false,"Gender":"Male","BMI":30.47,"FA":-0.36},
      {"THC":false,"Gender":"Male","BMI":21.27,"FA":-0.35},
      {"THC":false,"Gender":"Male","BMI":24.34,"FA":-0.34},
      {"THC":false,"Gender":"Male","BMI":27.64,"FA":-0.33},
      {"THC":false,"Gender":"Male","BMI":23.28,"FA":-0.32},
      {"THC":false,"Gender":"Male","BMI":26.81,"FA":-0.31},
      {"THC":false,"Gender":"Male","BMI":24.38,"FA":-0.06},
      {"THC":false,"Gender":"Male","BMI":28.66,"FA":-0.04},
      {"THC":false,"Gender":"Male","BMI":22.09,"FA":-0.02},
      {"THC":false,"Gender":"Male","BMI":26.21,"FA":0.00},
      {"THC":false,"Gender":"Male","BMI":20.41,"FA":0.01},
      {"THC":false,"Gender":"Male","BMI":25.07,"FA":0.03},
      {"THC":false,"Gender":"Male","BMI":29.93,"FA":0.05},
      {"THC":false,"Gender":"Male","BMI":23.37,"FA":0.06},
      {"THC":false,"Gender":"Male","BMI":27.32,"FA":0.08},
      {"THC":false,"Gender":"Male","BMI":21.72,"FA":0.09},
      {"THC":false,"Gender":"Male","BMI":24.99,"FA":0.11},
      {"THC":false,"Gender":"Male","BMI":31.48,"FA":0.12},
      {"THC":false,"Gender":"Male","BMI":22.96,"FA":0.14},
      {"THC":false,"Gender":"Male","BMI":26.48,"FA":0.16},
      {"THC":false,"Gender":"Male","BMI":19.88,"FA":0.18},
      {"THC":false,"Gender":"Male","BMI":25.61,"FA":0.19},
      {"THC":false,"Gender":"Male","BMI":28.12,"FA":0.21},
      {"THC":false,"Gender":"Male","BMI":23.56,"FA":0.23},
      {"THC":false,"Gender":"Male","BMI":27.19,"FA":0.25},
      {"THC":false,"Gender":"Male","BMI":21.43,"FA":0.27},
      {"THC":false,"Gender":"Male","BMI":25.56,"FA":0.48},
      {"THC":false,"Gender":"Male","BMI":22.28,"FA":0.50},
      {"THC":false,"Gender":"Male","BMI":28.84,"FA":0.52},
      {"THC":false,"Gender":"Male","BMI":24.11,"FA":0.55},
      {"THC":false,"Gender":"Male","BMI":30.39,"FA":0.58},
      {"THC":false,"Gender":"Male","BMI":21.66,"FA":0.60},
      {"THC":false,"Gender":"Male","BMI":26.16,"FA":0.63},
      {"THC":false,"Gender":"Male","BMI":23.78,"FA":0.66},
      {"THC":false,"Gender":"Male","BMI":32.52,"FA":0.70},
      {"THC":false,"Gender":"Male","BMI":24.82,"FA":0.73},
      {"THC":false,"Gender":"Male","BMI":20.22,"FA":0.76},
      {"THC":false,"Gender":"Male","BMI":27.94,"FA":0.80},
      {"THC":false,"Gender":"Male","BMI":23.13,"FA":0.84},
      {"THC":false,"Gender":"Male","BMI":29.48,"FA":0.88},
      {"THC":false,"Gender":"Male","BMI":22.74,"FA":0.93},
      {"THC":false,"Gender":"Male","BMI":26.94,"FA":0.99},
      {"THC":false,"Gender":"Male","BMI":24.47,"FA":1.05},
      {"THC":false,"Gender":"Male","BMI":30.71,"FA":1.14},
      {"THC":false,"Gender":"Male","BMI":21.97,"FA":1.26},
      {"THC":false,"Gender":"Male","BMI":27.41,"FA":1.45},
      {"THC":true,"Gender":"Female","BMI":40.62,"FA":-2.38},
      {"THC":true,"Gender":"Female","BMI":35.51,"FA":-1.84},
      {"THC":true,"Gender":"Female","BMI":21.44,"FA":-1.80},
      {"THC":true,"Gender":"Female","BMI":24.39,"FA":-1.50},
      {"THC":true,"Gender":"Female","BMI":29.58,"FA":-1.44},
      {"THC":true,"Gender":"Female","BMI":17.84,"FA":-1.17},
      {"THC":true,"Gender":"Female","BMI":25.16,"FA":-0.99},
      {"THC":true,"Gender":"Female","BMI":23.12,"FA":-0.95},
      {"THC":true,"Gender":"Female","BMI":27.78,"FA":-0.89},
      {"THC":true,"Gender":"Female","BMI":37.91,"FA":-0.84},
      {"THC":true,"Gender":"Female","BMI":24.94,"FA":-0.79},
      {"THC":true,"Gender":"Female","BMI":38.53,"FA":-0.74},
      {"THC":true,"Gender":"Female","BMI":22.64,"FA":-0.71},
      {"THC":true,"Gender":"Female","BMI":26.51,"FA":-0.66},
      {"THC":true,"Gender":"Female","BMI":23.71,"FA":-0.59},
      {"THC":true,"Gender":"Female","BMI":30.44,"FA":-0.53},
      {"THC":true,"Gender":"Female","BMI":24.25,"FA":-0.44},
      {"THC":true,"Gender":"Female","BMI":21.27,"FA":-0.36},
      {"THC":true,"Gender":"Female","BMI":28.09,"FA":-0.24},
      {"THC":true,"Gender":"Female","BMI":25.33,"FA":-0.16},
      {"THC":true,"Gender":"Female","BMI":23.96,"FA":-0.01},
      {"THC":true,"Gender":"Female","BMI":27.37,"FA":0.09},
      {"THC":true,"Gender":"Female","BMI":36.62,"FA":0.44},
      {"THC":true,"Gender":"Female","BMI":41.81,"FA":0.52},
      {"THC":true,"Gender":"Female","BMI":33.44,"FA":0.78},
      {"THC":true,"Gender":"Female","BMI":27.94,"FA":1.23},
      {"THC":true,"Gender":"Female","BMI":26.53,"FA":2.01},
      {"THC":true,"Gender":"Female","BMI":23.41,"FA":2.57},
      {"THC":true,"Gender":"Male","BMI":23.85,"FA":-2.29},
      {"THC":true,"Gender":"Male","BMI":24.71,"FA":-1.97},
      {"THC":true,"Gender":"Male","BMI":29.31,"FA":-1.90},
      {"THC":true,"Gender":"Male","BMI":24.72,"FA":-1.88},
      {"THC":true,"Gender":"Male","BMI":30.41,"FA":-1.87},
      {"THC":true,"Gender":"Male","BMI":26.46,"FA":-1.65},
      {"THC":true,"Gender":"Male","BMI":40.31,"FA":-1.52},
      {"THC":true,"Gender":"Male","BMI":25.54,"FA":-1.46},
      {"THC":true,"Gender":"Male","BMI":39.51,"FA":-1.28},
      {"THC":true,"Gender":"Male","BMI":32.73,"FA":-1.26},
      {"THC":true,"Gender":"Male","BMI":26.87,"FA":-1.04},
      {"THC":true,"Gender":"Male","BMI":22.94,"FA":-0.98},
      {"THC":true,"Gender":"Male","BMI":28.51,"FA":-0.97},
      {"THC":true,"Gender":"Male","BMI":24.48,"FA":-0.92},
      {"THC":true,"Gender":"Male","BMI":20.79,"FA":-0.90},
      {"THC":true,"Gender":"Male","BMI":26.64,"FA":-0.87},
      {"THC":true,"Gender":"Male","BMI":37.93,"FA":-0.85},
      {"THC":true,"Gender":"Male","BMI":23.33,"FA":-0.82},
      {"THC":true,"Gender":"Male","BMI":25.37,"FA":-0.80},
      {"THC":true,"Gender":"Male","BMI":21.33,"FA":-0.77},
      {"THC":true,"Gender":"Male","BMI":27.48,"FA":-0.76},
      {"THC":true,"Gender":"Male","BMI":24.03,"FA":-0.73},
      {"THC":true,"Gender":"Male","BMI":29.96,"FA":-0.72},
      {"THC":true,"Gender":"Male","BMI":22.21,"FA":-0.70},
      {"THC":true,"Gender":"Male","BMI":26.01,"FA":-0.69},
      {"THC":true,"Gender":"Male","BMI":23.76,"FA":-0.64},
      {"THC":true,"Gender":"Male","BMI":42.79,"FA":-0.61},
      {"THC":true,"Gender":"Male","BMI":25.12,"FA":-0.56},
      {"THC":true,"Gender":"Male","BMI":21.88,"FA":-0.51},
      {"THC":true,"Gender":"Male","BMI":27.74,"FA":-0.47},
      {"THC":true,"Gender":"Male","BMI":24.16,"FA":-0.42},
      {"THC":true,"Gender":"Male","BMI":43.88,"FA":-0.39},
      {"THC":true,"Gender":"Male","BMI":22.99,"FA":-0.31},
      {"THC":true,"Gender":"Male","BMI":26.28,"FA":-0.27},
      {"THC":true,"Gender":"Male","BMI":24.54,"FA":-0.21},
      {"THC":true,"Gender":"Male","BMI":30.94,"FA":-0.19},
      {"THC":true,"Gender":"Male","BMI":25.22,"FA":-0.04},
      {"THC":true,"Gender":"Male","BMI":22.47,"FA":0.07},
      {"THC":true,"Gender":"Male","BMI":28.79,"FA":0.39},
      {"THC":true,"Gender":"Male","BMI":23.91,"FA":0.49},
      {"THC":true,"Gender":"Male","BMI":25.76,"FA":0.74},
      {"THC":true,"Gender":"Male","BMI":43.71,"FA":1.09},
      {"THC":true,"Gender":"Male","BMI":24.35,"FA":1.27},
      {"THC":true,"Gender":"Male","BMI":22.89,"FA":1.97},
      {"THC":true,"Gender":"Male","BMI":21.31,"FA":2.28}
    ],
    "fit": [
      {"BMI":16.6,"fit":0.095,"lo":-0.058,"hi":0.248},
      {"BMI":20,"fit":0.062,"lo":-0.053,"hi":0.177},
      {"BMI":23,"fit":0.032,"lo":-0.056,"hi":0.12},
      {"BMI":26.5,"fit":-0.002,"lo":-0.076,"hi":0.072},
      {"BMI":30,"fit":-0.036,"lo":-0.124,"hi":0.052},
      {"BMI":34,"fit":-0.075,"lo":-0.201,"hi":0.051},
      {"BMI":38,"fit":-0.114,"lo":-0.286,"hi":0.058},
      {"BMI":42,"fit":-0.153,"lo":-0.375,"hi":0.069},
      {"BMI":47.8,"fit":-0.21,"lo":-0.507,"hi":0.087}
    ]
  },
  "hconcat": [
    {
      "width": 325.6,
      "height": 451,
      "data": {"name": "subjects"},
      "layer": [
        {
          "mark": {
            "type": "boxplot", "extent": 1.5, "size": 111, "outliers": false, "ticks": false,
            "box": {"fill": "#FFFFFF", "stroke": "#333333", "strokeWidth": 2.67},
            "median": {"color": "#333333", "opacity": 1, "thickness": 5.3},
            "rule": {"color": "#333333", "strokeWidth": 2.67}
          },
          "encoding": {
            "x": {"field": "THC", "type": "nominal", "scale": {"paddingInner": 0.25, "paddingOuter": 0.225},
                  "axis": {"title": "THC", "labelAngle": 0, "bandPosition": 0.5, "labelPadding": 6, "titlePadding": 2}},
            "y": {"field": "FA", "type": "quantitative", "scale": {"domain": [-2.82, 4.01], "nice": false, "zero": false},
                  "axis": {"title": "FA", "values": [-2, -1, 0, 1, 2, 3, 4], "format": "d", "labelPadding": 4, "titlePadding": 8,
                           "labelExpr": "datum.value % 2 === 0 ? datum.label : ''",
                           "gridWidth": {"condition": {"test": "datum.value % 2 !== 0", "value": 1.33}, "value": 2.67},
                           "tickOpacity": {"condition": {"test": "datum.value % 2 !== 0", "value": 0}, "value": 1}}}
          }
        },
        {
          "mark": {"type": "circle", "color": "#000000", "opacity": 0.2, "size": 62},
          "encoding": {
            "x": {"field": "THC", "type": "nominal"},
            "xOffset": {"field": "BMI", "type": "nominal", "scale": {"range": [37.5, 73.5]}},
            "y": {"field": "FA", "type": "quantitative"}
          }
        }
      ]
    },
    {
      "width": 325.6,
      "height": 451,
      "data": {"name": "subjects"},
      "layer": [
        {
          "mark": {
            "type": "boxplot", "extent": 1.5, "size": 111, "outliers": false, "ticks": false,
            "box": {"fill": "#FFFFFF", "stroke": "#333333", "strokeWidth": 2.67},
            "median": {"color": "#333333", "opacity": 1, "thickness": 5.3},
            "rule": {"color": "#333333", "strokeWidth": 2.67}
          },
          "encoding": {
            "x": {"field": "Gender", "type": "nominal", "scale": {"paddingInner": 0.25, "paddingOuter": 0.225},
                  "axis": {"title": "Gender", "labelAngle": 0, "bandPosition": 0.5, "labelPadding": 6, "titlePadding": 2}},
            "y": {"field": "FA", "type": "quantitative", "scale": {"domain": [-2.82, 4.01], "nice": false, "zero": false},
                  "axis": {"title": "FA", "values": [-2, -1, 0, 1, 2, 3, 4], "format": "d", "labelPadding": 4, "titlePadding": 8,
                           "labelExpr": "datum.value % 2 === 0 ? datum.label : ''",
                           "gridWidth": {"condition": {"test": "datum.value % 2 !== 0", "value": 1.33}, "value": 2.67},
                           "tickOpacity": {"condition": {"test": "datum.value % 2 !== 0", "value": 0}, "value": 1}}}
          }
        },
        {
          "mark": {"type": "circle", "color": "#000000", "opacity": 0.2, "size": 62},
          "encoding": {
            "x": {"field": "Gender", "type": "nominal"},
            "xOffset": {"field": "BMI", "type": "nominal", "scale": {"range": [37.5, 73.5]}},
            "y": {"field": "FA", "type": "quantitative"}
          }
        }
      ]
    },
    {
      "width": 325.6,
      "height": 451,
      "layer": [
        {
          "data": {"name": "subjects"},
          "mark": {"type": "circle", "color": "#000000", "opacity": 0.2, "size": 62},
          "encoding": {
            "x": {"field": "BMI", "type": "quantitative", "scale": {"domain": [15.1, 49.35], "nice": false, "zero": false},
                  "axis": {"title": "BMI", "values": [20, 25, 30, 35, 40, 45], "format": "d", "labelPadding": 6, "titlePadding": 2,
                           "labelExpr": "datum.value % 10 === 0 ? datum.label : ''",
                           "gridWidth": {"condition": {"test": "datum.value % 10 !== 0", "value": 1.33}, "value": 2.67},
                           "tickOpacity": {"condition": {"test": "datum.value % 10 !== 0", "value": 0}, "value": 1}}},
            "y": {"field": "FA", "type": "quantitative", "title": "FA", "scale": {"domain": [-2.82, 4.01], "nice": false, "zero": false},
                  "axis": {"title": "FA", "values": [-2, -1, 0, 1, 2, 3, 4], "format": "d", "labelPadding": 4, "titlePadding": 8,
                           "labelExpr": "datum.value % 2 === 0 ? datum.label : ''",
                           "gridWidth": {"condition": {"test": "datum.value % 2 !== 0", "value": 1.33}, "value": 2.67},
                           "tickOpacity": {"condition": {"test": "datum.value % 2 !== 0", "value": 0}, "value": 1}}}
          }
        },
        {
          "data": {"name": "fit"},
          "mark": {"type": "area", "color": "#999999", "opacity": 0.4},
          "encoding": {
            "x": {"field": "BMI", "type": "quantitative", "title": "BMI"},
            "y": {"field": "lo", "type": "quantitative", "title": "FA"},
            "y2": {"field": "hi"}
          }
        },
        {
          "data": {"name": "fit"},
          "mark": {"type": "line", "color": "#3366FF", "strokeWidth": 5.3},
          "encoding": {
            "x": {"field": "BMI", "type": "quantitative", "title": "BMI"},
            "y": {"field": "fit", "type": "quantitative", "title": "FA"}
          }
        }
      ]
    }
  ]
}
